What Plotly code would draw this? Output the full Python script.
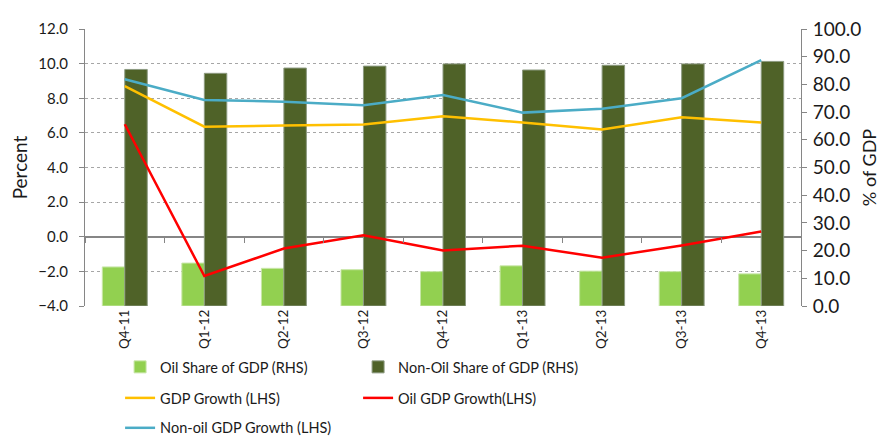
import plotly.graph_objects as go

quarters = ["Q4-11", "Q1-12", "Q2-12", "Q3-12", "Q4-12", "Q1-13", "Q2-13", "Q3-13", "Q4-13"]
oil_share = [14.1, 15.5, 13.6, 13.1, 12.4, 14.5, 12.6, 12.4, 11.6]
non_oil_share = [85.4, 84.0, 85.9, 86.6, 87.4, 85.2, 86.9, 87.4, 88.3]
gdp_growth = [8.7, 6.36, 6.42, 6.48, 6.96, 6.6, 6.19, 6.9, 6.6]
oil_gdp_growth = [6.5, -2.27, -0.68, 0.08, -0.79, -0.52, -1.21, -0.5, 0.3]
non_oil_gdp_growth = [9.1, 7.9, 7.8, 7.6, 8.19, 7.17, 7.4, 8.0, 10.2]

FONT = "Lato, sans-serif"
AX = "#868686"
TXT = "#1a1a1a"

fig = go.Figure()
# bars on the right-hand "% of GDP" axis (y), lines on the left-hand "Percent" axis (y2, drawn on top)
fig.add_trace(go.Bar(x=quarters, y=oil_share, name="Oil Share of GDP (RHS)", xaxis="x", yaxis="y",
                     marker=dict(color="#92D050", line=dict(color="#C8E6A8", width=1)), legend="legend"))
fig.add_trace(go.Bar(x=quarters, y=non_oil_share, name="Non-Oil Share of GDP (RHS)", xaxis="x", yaxis="y",
                     marker=dict(color="#4F6228", line=dict(color="#8C9A80", width=1)), legend="legend"))
fig.add_trace(go.Scatter(x=quarters, y=gdp_growth, name="GDP Growth (LHS)", mode="lines", xaxis="x2", yaxis="y2",
                         line=dict(color="#FFC000", width=2.5), legend="legend2"))
fig.add_trace(go.Scatter(x=quarters, y=oil_gdp_growth, name="Oil GDP Growth(LHS)", mode="lines", xaxis="x2", yaxis="y2",
                         line=dict(color="#FF0000", width=2.5), legend="legend2"))
fig.add_trace(go.Scatter(x=quarters, y=non_oil_gdp_growth, name="Non-oil GDP Growth (LHS)", mode="lines", xaxis="x2", yaxis="y2",
                         line=dict(color="#4BACC6", width=2.5), legend="legend3"))

leg = dict(orientation="h", xanchor="left", yanchor="middle", entrywidth=193,
           font=dict(family=FONT, size=14.5, color=TXT), bgcolor="rgba(0,0,0,0)",
           traceorder="normal")

n = len(quarters)
fig.update_layout(
    width=885, height=437,
    margin=dict(l=77, r=92, t=21, b=139, autoexpand=False),
    paper_bgcolor="white", plot_bgcolor="white",
    font=dict(family=FONT, color=TXT),
    barmode="group", bargap=0.435, bargroupgap=0,
    xaxis=dict(type="category", categoryarray=quarters, range=[-0.5, n - 0.5],
               tickangle=-90, tickfont=dict(size=13.5),
               showline=False, ticks="", showgrid=False),
    xaxis2=dict(type="category", categoryarray=quarters, range=[-0.5, n - 0.5],
                overlaying="x", anchor="free", position=0.25, side="bottom",
                showticklabels=False, showline=False, showgrid=False,
                ticks="outside", tickson="boundaries", ticklen=5, tickcolor=AX, tickwidth=1),
    yaxis=dict(range=[0, 100], dtick=10, tickformat=".1f", tickfont=dict(size=19),
               side="right", showgrid=False, zeroline=False,
               showline=True, linecolor=AX, linewidth=1, ticks="outside", ticklen=5, tickcolor=AX,
               ticklabelstandoff=2,
               title=dict(text="% of GDP", font=dict(size=18), standoff=3)),
    yaxis2=dict(range=[-4, 12], dtick=2, tickformat=".1f", tickfont=dict(size=15),
                overlaying="y", side="left", anchor="x",
                showline=True, linecolor=AX, linewidth=1, ticks="outside", ticklen=5, tickcolor=AX,
                ticklabelstandoff=8,
                showgrid=True, gridcolor="#A6A6A6", griddash="dot", gridwidth=1,
                zeroline=True, zerolinecolor=AX, zerolinewidth=1.5,
                title=dict(text="Percent", font=dict(size=19), standoff=6)),
    legend=dict(leg, x=0.049, y=-0.220),
    legend2=dict(leg, x=0.049, y=-0.332),
    legend3=dict(leg, x=0.049, y=-0.440),
    showlegend=True,
)

fig.write_html("out.html")
